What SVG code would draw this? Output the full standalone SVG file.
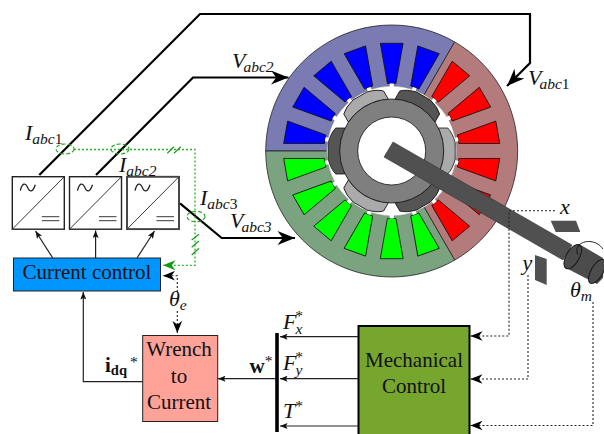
<svg xmlns="http://www.w3.org/2000/svg" xmlns:xlink="http://www.w3.org/1999/xlink" width="604" height="434" viewBox="0 0 604 434">
<style>
text{font-family:"Liberation Serif","Times New Roman",serif;fill:#111}
.lab{font-size:22px;font-style:italic}
.sub{font-size:15.5px;font-style:italic}
.rm{font-style:normal}
.box{font-size:21px;text-anchor:middle}
.sec{stroke:#222;stroke-width:.8}
.slot{stroke:#111;stroke-width:.8}
.blue{fill:#0000ff}.red{fill:#ff0000}.green{fill:#00ff00}
.seg{stroke:#111;stroke-width:.8}
.lt{fill:#aaaaaa}.dk{fill:#555555}
.pw{fill:none;stroke:#000;stroke-width:2.2}
.thin{fill:none;stroke:#222;stroke-width:1.2}
.dash{fill:none;stroke:#222;stroke-width:1.1;stroke-dasharray:2 2}
.gd{fill:none;stroke:#2fb02f;stroke-width:1.3;stroke-dasharray:2 2}
.ge{fill:none;stroke:#1fa51f;stroke-width:1.1;stroke-dasharray:4 2}
.gs{fill:none;stroke:#1f9a1f;stroke-width:1.2}
.conv{fill:#fff;stroke:#222;stroke-width:1.4}
.cl{fill:none;stroke:#222;stroke-width:.9}
.wave{fill:none;stroke:#222;stroke-width:1.3}
</style>
<defs>
<marker id="big" viewBox="0 0 10 8" refX="10" refY="4" orient="auto" markerUnits="userSpaceOnUse" markerWidth="22" markerHeight="14"><path d="M10,4 L0,0 L3,4 L0,8 Z" fill="#000"/></marker>
<marker id="small" viewBox="0 0 10 8" refX="10" refY="4" orient="auto" markerUnits="userSpaceOnUse" markerWidth="8" markerHeight="6"><path d="M10,4 L0,0 L2,4 L0,8 Z" fill="#111"/></marker>
<marker id="mid" viewBox="0 0 10 8" refX="10" refY="4" orient="auto" markerUnits="userSpaceOnUse" markerWidth="12" markerHeight="10"><path d="M10,4 L0,0 L3,4 L0,8 Z" fill="#000"/></marker>
<marker id="gm" viewBox="0 0 10 8" refX="10" refY="4" orient="auto" markerUnits="userSpaceOnUse" markerWidth="13" markerHeight="10"><path d="M10,4 L0,0 L3,4 L0,8 Z" fill="#109a10"/></marker>
<polygon id="slot" class="slot" points="-11.4,-107.7 11.4,-107.7 4.3,-67.5 -4.3,-67.5"/>
<path id="seg" class="seg" d="M46.6,-23 L56,-23 Q61,-18 63.5,-8 L63.5,8 Q61,18 56,23 L46.6,23 A52,52 0 0 0 46.6,-23 Z"/>
<g id="conv">
<rect class="conv" x="0" y="0" width="52" height="52.5"/>
<path class="cl" d="M0,52.5 L52,0"/>
<path class="wave" d="M8,14 C10,6 13,6 15,10 C17,15 20,17 23,8"/>
<path class="cl" d="M29.5,40 H47 M29.5,44 H47"/>
</g>
</defs>
<g id="motor">
<g id="stator">
<path class="sec" fill="#7b7bb3" d="M391.7,151 L454.7,41.9 A126,126 0 0 0 265.7,151 Z"/>
<path class="sec" fill="#b37b7b" d="M391.7,151 L454.7,41.9 A126,126 0 0 1 454.7,260.1 Z"/>
<path class="sec" fill="#7ba37f" d="M391.7,151 L265.7,151 A126,126 0 0 0 454.7,260.1 Z"/>
<g transform="translate(391.7,151)">
<use xlink:href="#slot" href="#slot" class="blue" transform="rotate(20)"/>
<use xlink:href="#slot" href="#slot" class="blue" transform="rotate(0)"/>
<use xlink:href="#slot" href="#slot" class="blue" transform="rotate(-20)"/>
<use xlink:href="#slot" href="#slot" class="blue" transform="rotate(-40)"/>
<use xlink:href="#slot" href="#slot" class="blue" transform="rotate(-60)"/>
<use xlink:href="#slot" href="#slot" class="blue" transform="rotate(-80)"/>
<use xlink:href="#slot" href="#slot" class="red" transform="rotate(40)"/>
<use xlink:href="#slot" href="#slot" class="red" transform="rotate(60)"/>
<use xlink:href="#slot" href="#slot" class="red" transform="rotate(80)"/>
<use xlink:href="#slot" href="#slot" class="red" transform="rotate(100)"/>
<use xlink:href="#slot" href="#slot" class="red" transform="rotate(120)"/>
<use xlink:href="#slot" href="#slot" class="red" transform="rotate(140)"/>
<use xlink:href="#slot" href="#slot" class="green" transform="rotate(160)"/>
<use xlink:href="#slot" href="#slot" class="green" transform="rotate(180)"/>
<use xlink:href="#slot" href="#slot" class="green" transform="rotate(200)"/>
<use xlink:href="#slot" href="#slot" class="green" transform="rotate(220)"/>
<use xlink:href="#slot" href="#slot" class="green" transform="rotate(240)"/>
<use xlink:href="#slot" href="#slot" class="green" transform="rotate(260)"/>
<circle r="65" fill="#fff" stroke="#666" stroke-width=".4"/>
<g fill="#fff">
<rect x="-2" y="-67.5" width="4" height="5" transform="rotate(20)"/>
<rect x="-2" y="-67.5" width="4" height="5" transform="rotate(40)"/>
<rect x="-2" y="-67.5" width="4" height="5" transform="rotate(60)"/>
<rect x="-2" y="-67.5" width="4" height="5" transform="rotate(80)"/>
<rect x="-2" y="-67.5" width="4" height="5" transform="rotate(100)"/>
<rect x="-2" y="-67.5" width="4" height="5" transform="rotate(120)"/>
<rect x="-2" y="-67.5" width="4" height="5" transform="rotate(140)"/>
<rect x="-2" y="-67.5" width="4" height="5" transform="rotate(160)"/>
<rect x="-2" y="-67.5" width="4" height="5" transform="rotate(180)"/>
<rect x="-2" y="-67.5" width="4" height="5" transform="rotate(200)"/>
<rect x="-2" y="-67.5" width="4" height="5" transform="rotate(220)"/>
<rect x="-2" y="-67.5" width="4" height="5" transform="rotate(240)"/>
<rect x="-2" y="-67.5" width="4" height="5" transform="rotate(260)"/>
<rect x="-2" y="-67.5" width="4" height="5" transform="rotate(280)"/>
<rect x="-2" y="-67.5" width="4" height="5" transform="rotate(300)"/>
<rect x="-2" y="-67.5" width="4" height="5" transform="rotate(320)"/>
<rect x="-2" y="-67.5" width="4" height="5" transform="rotate(340)"/>
<rect x="-2" y="-67.5" width="4" height="5"/>
</g>
</g>
</g>
<g id="rotor" transform="translate(391.7,151)">
<use xlink:href="#seg" href="#seg" class="lt" transform="rotate(0)"/>
<use xlink:href="#seg" href="#seg" class="dk" transform="rotate(-60)"/>
<use xlink:href="#seg" href="#seg" class="lt" transform="rotate(-120)"/>
<use xlink:href="#seg" href="#seg" class="dk" transform="rotate(180)"/>
<use xlink:href="#seg" href="#seg" class="lt" transform="rotate(120)"/>
<use xlink:href="#seg" href="#seg" class="dk" transform="rotate(60)"/>
<circle r="52" fill="#7f7f7f" stroke="#111" stroke-width=".8"/>
<circle r="34" fill="#fff" stroke="#111" stroke-width=".8"/>
</g>
<g id="shaft">
<polygon points="393,142 572,245 563,260 384,157" fill="#505050" stroke="#333" stroke-width=".6"/>
<path d="M579,244 L603,258 Q604,262 603,278 L597,284 L566,268 Z" fill="#4c4c4c"/>
<ellipse cx="572.7" cy="256.7" rx="6.5" ry="13.5" transform="rotate(30 572.7 256.7)" fill="#4c4c4c" stroke="#111" stroke-width=".9"/>
<ellipse cx="597" cy="271.5" rx="6" ry="13.5" transform="rotate(30 597 271.5)" fill="#4c4c4c" stroke="#111" stroke-width=".9"/>
<path d="M578,255 C574,247 581,241 590,241.5 C596,242 600,245 603,249" fill="none" stroke="#111" stroke-width=".9"/>
</g>
<polygon id="sensor-x" points="550.7,220.7 576,220.7 580.3,232 555.7,232" fill="#505050"/>
<polygon id="sensor-y" points="535,255 546.7,259 546.7,285 535,280" fill="#505050"/>
</g>
<g id="converter1"><use xlink:href="#conv" href="#conv" x="12.3" y="176.7"/></g>
<g id="converter2"><use xlink:href="#conv" href="#conv" x="69.5" y="176.7"/></g>
<g id="converter3"><use xlink:href="#conv" href="#conv" x="127" y="176.7"/><rect x="127" y="176.7" width="52" height="52.5" fill="none" stroke="#444" stroke-width="1.7"/></g>
<g id="current-control">
<rect x="13.5" y="258" width="147" height="33" fill="#0095ff" stroke="#222" stroke-width="1"/>
<text class="box" x="87" y="279">Current control</text>
</g>
<g id="wrench">
<rect x="142.7" y="335.5" width="75" height="86" fill="#ffa399" stroke="#222" stroke-width="1"/>
<text class="box" x="179" y="356">Wrench</text>
<text class="box" x="179" y="383">to</text>
<text class="box" x="179" y="409">Current</text>
</g>
<g id="mechanical">
<rect x="358.5" y="326" width="111" height="112" fill="#77a62f" stroke="#000" stroke-width="2"/>
<text class="box" x="414" y="367">Mechanical</text>
<text class="box" x="414" y="392.5">Control</text>
</g>
<g id="connectors">
<path class="pw" d="M39.3,175 L200,14 H530 V63 L507,86" marker-end="url(#big)"/>
<path class="pw" d="M96,175 L193,77.5 H288.5" marker-end="url(#big)"/>
<path class="pw" d="M180,203.3 L221.7,238 H295" marker-end="url(#big)"/>
<path class="thin" d="M52.7,258 L35.5,231" marker-end="url(#small)"/>
<path class="thin" d="M95.6,258 V230.5" marker-end="url(#small)"/>
<path class="thin" d="M137,258 L154.5,231" marker-end="url(#small)"/>
<path class="thin" d="M142.7,381.7 H83.3 V292" marker-end="url(#small)"/>
<path class="thin" d="M358,336.7 H280" marker-end="url(#small)"/>
<path class="thin" d="M358,378.7 H280" marker-end="url(#small)"/>
<path class="thin" d="M358,426 H280" marker-end="url(#small)"/>
<path class="thin" d="M277,378.7 H218" marker-end="url(#small)"/>
<path d="M277,333 V432" fill="none" stroke="#000" stroke-width="3.6"/>
<path class="gd" d="M74,149.5 H195 V265.3 H163" marker-end="url(#gm)"/>
<ellipse class="ge" cx="65" cy="149" rx="9" ry="5"/>
<ellipse class="ge" cx="120" cy="149" rx="9" ry="5"/>
<ellipse class="ge" cx="196" cy="216.5" rx="9" ry="5.3"/>
<path class="gs" d="M167.3,153.3 L174,146.7 M174,153.3 L180.7,146.7 M191.7,240 L199,234.3 M191.7,247.3 L199,241 M191.7,255 L199,248.3"/>
<path class="dash" d="M177.3,292 V275.7 H163" marker-end="url(#mid)"/>
<path class="dash" d="M177.3,311 V333" marker-end="url(#mid)"/>
<path class="dash" d="M555,210.7 H509 V336 H470.5" marker-end="url(#mid)"/>
<path class="dash" d="M528,275 V379 H470.5" marker-end="url(#mid)"/>
<path class="dash" d="M593,302 V425.5 H470.5" marker-end="url(#mid)"/>
</g>
<g id="labels">
<text class="lab" x="25" y="140">I<tspan class="sub" dy="4">abc</tspan><tspan class="sub rm">1</tspan></text>
<text class="lab" x="119" y="171.5">I<tspan class="sub" dy="4">abc2</tspan></text>
<text class="lab" x="200" y="205">I<tspan class="sub" dy="4">abc</tspan><tspan class="sub rm">3</tspan></text>
<text class="lab" x="230" y="228">V<tspan class="sub" dx="-2" dy="4">abc3</tspan></text>
<text class="lab" x="232" y="68">V<tspan class="sub" dx="-2" dy="4">abc2</tspan></text>
<text class="lab" x="528" y="85">V<tspan class="sub" dx="-2" dy="4">abc</tspan><tspan class="sub rm">1</tspan></text>
<text class="lab" x="560" y="214">x</text>
<text class="lab" x="522.5" y="270">y</text>
<text class="lab" x="570" y="296.5">θ<tspan class="sub" dy="4">m</tspan></text>
<text class="lab" x="169" y="306">θ<tspan class="sub" dy="4">e</tspan></text>
<text class="lab" x="283" y="328.5">F<tspan class="sub" dx="-1" dy="5">x</tspan><tspan class="sub rm" dx="-7" dy="-13">*</tspan></text>
<text class="lab" x="283" y="370">F<tspan class="sub" dx="-1" dy="5">y</tspan><tspan class="sub rm" dx="-7" dy="-13">*</tspan></text>
<text class="lab" x="283" y="418">T<tspan class="sub rm" dx="0" dy="-7">*</tspan></text>
<text x="249.5" y="373" font-size="21" font-weight="bold">w<tspan font-size="15.5" font-weight="normal" dy="-7">*</tspan></text>
<text x="105" y="372" font-size="21" font-weight="bold">i<tspan font-size="14.5" dy="3">dq</tspan><tspan font-size="15.5" font-weight="normal" dx="3" dy="-8">*</tspan></text>
</g>
</svg>
